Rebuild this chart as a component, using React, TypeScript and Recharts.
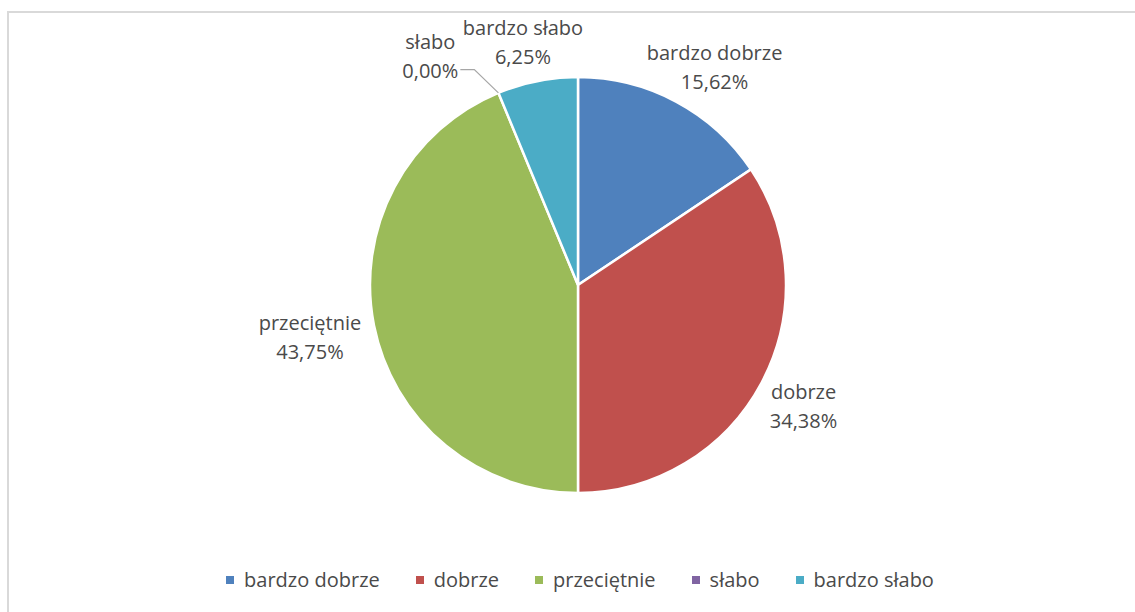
import React from "react";
import { PieChart, Pie, Cell, Legend } from "recharts";

const categories = ["bardzo dobrze", "dobrze", "przeciętnie", "słabo", "bardzo słabo"];
const values = [15.62, 34.38, 43.75, 0.0, 6.25];
const colors = ["#4F81BD", "#C0504D", "#9BBB59", "#8064A2", "#4BACC6"];

const data = categories.map((name, i) => ({ name, value: values[i] }));

const FONT = "'Open Sans', sans-serif";
const FONT_SIZE = 20;
const LINE_H = 29;
const TEXT = "#4A4A4A";

const fmt = (v: number) => v.toFixed(2).replace(".", ",") + "%";

let ctx: CanvasRenderingContext2D | null = null;
function textWidth(s: string) {
  if (!ctx) ctx = document.createElement("canvas").getContext("2d");
  if (!ctx) return s.length * FONT_SIZE * 0.55;
  ctx.font = `${FONT_SIZE}px 'Open Sans'`;
  return ctx.measureText(s).width;
}

type Box = { x: number; y: number; w: number; h: number; mid: number; moved: boolean };

// place every label box outside the pie, biggest slices first, push aside on collision
function layoutLabels(cx: number, cy: number, r: number): Box[] {
  const total = values.reduce((a, b) => a + b, 0);
  let cum = 0;
  const mids = values.map((v) => {
    const start = 90 - (cum / total) * 360;
    cum += v;
    const end = 90 - (cum / total) * 360;
    return (start + end) / 2;
  });
  const boxes: Box[] = new Array(values.length);
  const order = values.map((_, i) => i).sort((a, b) => values[b] - values[a]);
  const placed: Box[] = [];
  const gap = 14;
  for (const i of order) {
    const rad = (mids[i] * Math.PI) / 180;
    const c = Math.cos(rad);
    const s = Math.sin(rad);
    const w = Math.max(textWidth(categories[i]), textWidth(fmt(values[i])));
    const h = LINE_H * 2;
    const b: Box = {
      x: cx + (r + gap) * c + (c * w) / 2,
      y: cy - (r + gap) * s - (s * h) / 2 + 3,
      w,
      h,
      mid: mids[i],
      moved: false,
    };
    const dir = c < 0 ? -1 : 1;
    const hits = () =>
      placed.some(
        (p) => Math.abs(p.x - b.x) < (p.w + b.w) / 2 + 4 && Math.abs(p.y - b.y) < (p.h + b.h) / 2
      );
    while (hits()) {
      b.x += dir * 2;
      b.moved = true;
    }
    placed.push(b);
    boxes[i] = b;
  }
  return boxes;
}

function renderLabel(props: any) {
  const { cx, cy, outerRadius, index } = props;
  const b = layoutLabels(cx, cy, outerRadius)[index];
  const y1 = b.y - LINE_H / 2;
  const y2 = b.y + LINE_H / 2;
  let leader = null;
  if (b.moved) {
    const rad = (b.mid * Math.PI) / 180;
    const px = cx + outerRadius * Math.cos(rad);
    const py = cy - outerRadius * Math.sin(rad);
    const side = b.x < px ? 1 : -1;
    const ex = b.x + (side * b.w) / 2 + side * 2;
    const ey = y2 - 1;
    leader = (
      <polyline
        points={`${ex},${ey} ${ex + side * 14},${ey} ${px},${py}`}
        fill="none"
        stroke="#A6A6A6"
        strokeWidth={1.2}
      />
    );
  }
  return (
    <g key={`lbl-${index}`}>
      {leader}
      <text
        x={b.x}
        y={y1}
        textAnchor="middle"
        dominantBaseline="central"
        fill={TEXT}
        fontFamily={FONT}
        fontSize={FONT_SIZE}
      >
        {categories[index]}
      </text>
      <text
        x={b.x}
        y={y2}
        textAnchor="middle"
        dominantBaseline="central"
        fill={TEXT}
        fontFamily={FONT}
        fontSize={FONT_SIZE}
      >
        {fmt(values[index])}
      </text>
    </g>
  );
}

function LegendContent() {
  return (
    <div
      style={{
        display: "flex",
        justifyContent: "center",
        alignItems: "center",
        gap: 36,
        fontFamily: FONT,
        fontSize: FONT_SIZE,
        color: TEXT,
      }}
    >
      {categories.map((c, i) => (
        <div key={c} style={{ display: "flex", alignItems: "center", gap: 10 }}>
          <span style={{ width: 8, height: 8, background: colors[i], display: "inline-block" }} />
          <span>{c}</span>
        </div>
      ))}
    </div>
  );
}

export default function App() {
  return (
    <>
      <style>{`body{margin:0;overflow:hidden;background:#fff}`}</style>
      <div
        style={{
          position: "absolute",
          left: 7,
          top: 11,
          width: 1128,
          height: 601,
          borderLeft: "2px solid #D9D9D9",
          borderTop: "2px solid #D9D9D9",
          boxSizing: "border-box",
        }}
      >
        <PieChart width={1126} height={599} margin={{ top: 0, right: 0, bottom: 0, left: 0 }}>
          <Pie
            data={data}
            dataKey="value"
            nameKey="name"
            cx={569}
            cy={272}
            outerRadius={208}
            startAngle={90}
            endAngle={-270}
            stroke="#FFFFFF"
            strokeWidth={2.5}
            label={renderLabel}
            labelLine={false}
            isAnimationActive={false}
          >
            {data.map((d, i) => (
              <Cell key={d.name} fill={colors[i]} />
            ))}
          </Pie>
          <Legend
            verticalAlign="bottom"
            content={<LegendContent />}
            wrapperStyle={{ bottom: 19, left: 8, width: 1126 }}
          />
        </PieChart>
      </div>
    </>
  );
}
